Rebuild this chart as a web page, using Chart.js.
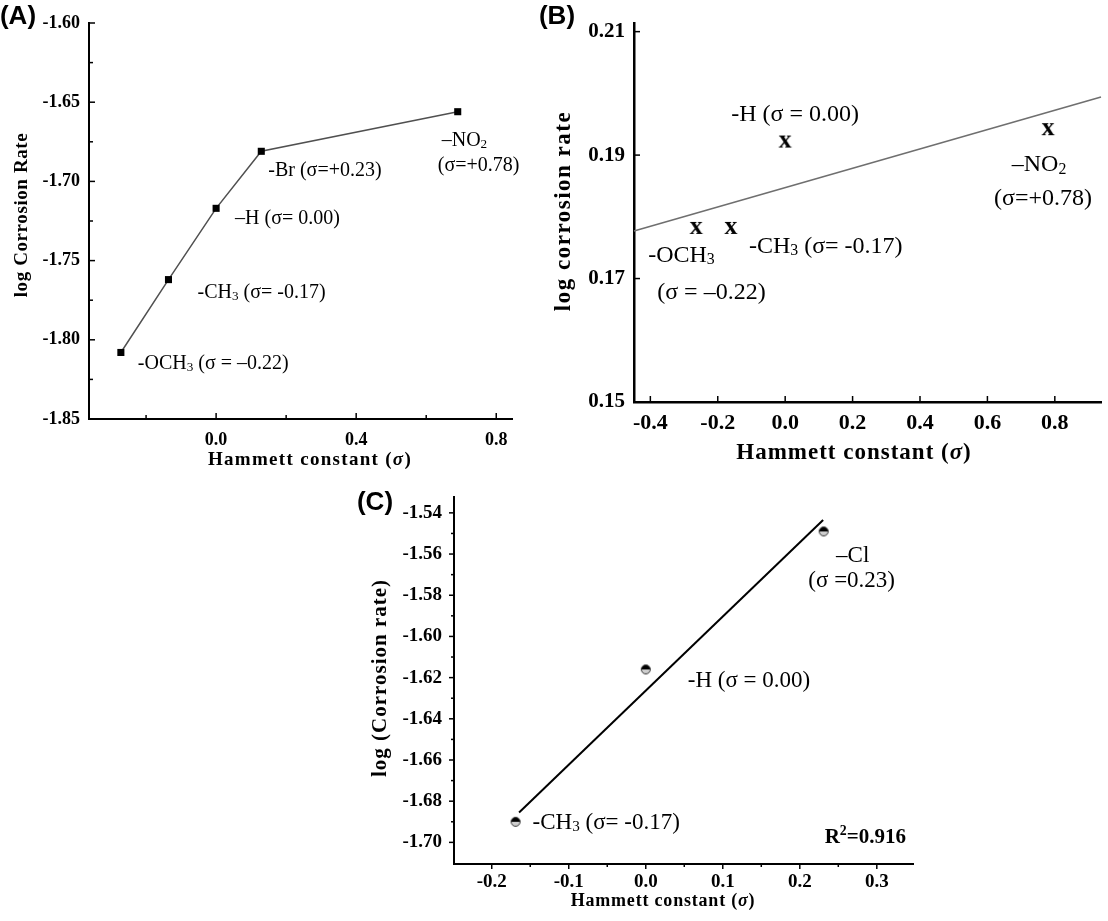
<!DOCTYPE html>
<html>
<head>
<meta charset="utf-8">
<script src="https://cdn.jsdelivr.net/npm/chart.js@4.4.1/dist/chart.umd.min.js"></script>
<style>
html, body { margin: 0; padding: 0; background: #fff; }
#wrap { position: relative; width: 1108px; height: 921px; overflow: hidden; }
canvas { position: absolute; left: 0; top: 0; }
</style>
</head>
<body>
<div id="wrap">
  <canvas id="chartA" width="1108" height="921"></canvas>
  <canvas id="chartB" width="1108" height="921"></canvas>
  <canvas id="chartC" width="1108" height="921"></canvas>
</div>
<script>
// ---- panel A ----
var sigmaA = [-0.272, -0.136, 0.0, 0.129, 0.690];
var logRateA = [-1.808, -1.762, -1.717, -1.681, -1.656];
var xTicksA = [-0.2, 0.0, 0.2, 0.4, 0.6, 0.8];
var xLabelsA = ['', '0.0', '', '0.4', '', '0.8'];
var yTicksA = [-1.85, -1.825, -1.80, -1.775, -1.75, -1.725, -1.70, -1.675, -1.65, -1.625, -1.60];
var yLabelsA = ['-1.85', '', '-1.80', '', '-1.75', '', '-1.70', '', '-1.65', '', '-1.60'];

// ---- panel B ----
var sigmaB = [-0.264, -0.161, 0.0, 0.78];
var logRateB = [0.1782, 0.1782, 0.1922, 0.1942];
var fitSigmaB = [-0.4485, 0.937];
var fitRateB = [0.1777, 0.1994];
var xTicksB = [-0.4, -0.2, 0.0, 0.2, 0.4, 0.6, 0.8];
var xLabelsB = ['-0.4', '-0.2', '0.0', '0.2', '0.4', '0.6', '0.8'];
var yTicksB = [0.15, 0.17, 0.19, 0.21];
var yLabelsB = ['0.15', '0.17', '0.19', '0.21'];

// ---- panel C ----
var sigmaC = [-0.169, 0.0, 0.231];
var logRateC = [-1.690, -1.616, -1.549];
var fitSigmaC = [-0.1645, 0.2303];
var fitRateC = [-1.6855, -1.5435];
var xTicksC = [-0.2, -0.15, -0.1, -0.05, 0.0, 0.05, 0.1, 0.15, 0.2, 0.25, 0.3];
var xLabelsC = ['-0.2', '', '-0.1', '', '0.0', '', '0.1', '', '0.2', '', '0.3'];
var yTicksC = [-1.70, -1.69, -1.68, -1.67, -1.66, -1.65, -1.64, -1.63, -1.62, -1.61, -1.60, -1.59, -1.58, -1.57, -1.56, -1.55, -1.54];
var yLabelsC = ['-1.70', '', '-1.68', '', '-1.66', '', '-1.64', '', '-1.62', '', '-1.60', '', '-1.58', '', '-1.56', '', '-1.54'];

var SERIF = '"Liberation Serif", "Times New Roman", serif';
var SANS = '"Liberation Sans", Arial, sans-serif';
Chart.defaults.font.family = SERIF;
Chart.defaults.color = '#000';

function pts(xs, ys) {
  return xs.map(function (x, i) { return { x: x, y: ys[i] }; });
}

// box = fixed width (y) or height (x) of the axis area, so labels are not clipped
function axis(min, max, ticks, labels, size, pad, bw, box) {
  return {
    type: 'linear',
    min: min,
    max: max,
    afterBuildTicks: function (s) { s.ticks = ticks.map(function (v) { return { value: v }; }); },
    afterFit: function (s) { if (s.isHorizontal()) s.height = box; else s.width = box; },
    ticks: {
      autoSkip: false, maxRotation: 0, minRotation: 0, padding: pad,
      font: { family: SERIF, size: size, weight: 'bold' }, color: '#000',
      callback: function (v, i) { return labels[i]; }
    },
    grid: { display: false, drawTicks: false },
    border: { display: true, color: '#000', width: bw }
  };
}

// text with _x subscript, ^x superscript, *..* italic
function drawRich(ctx, str, size, bold, align, sp, family) {
  var segs = [], italic = false;
  for (var i = 0; i < str.length; i++) {
    var ch = str[i], mode = 'n';
    if (ch === '*') { italic = !italic; continue; }
    if (ch === '_' || ch === '^') { mode = ch; ch = str[++i]; }
    var last = segs[segs.length - 1];
    if (last && last.mode === mode && last.italic === italic) last.t += ch;
    else segs.push({ t: ch, mode: mode, italic: italic });
  }
  ctx.letterSpacing = (sp || 0) + 'px';
  ctx.textBaseline = 'middle';
  ctx.textAlign = 'left';
  ctx.fillStyle = '#000';
  function fontFor(s) {
    var fs = s.mode === 'n' ? size : size * 0.66;
    return (s.italic ? 'italic ' : '') + (bold ? 'bold ' : '') + fs + 'px ' + (family || SERIF);
  }
  var total = 0;
  segs.forEach(function (s) { ctx.font = fontFor(s); s.w = ctx.measureText(s.t).width; total += s.w; });
  var x = align === 'center' ? -total / 2 : (align === 'right' ? -total : 0);
  segs.forEach(function (s) {
    ctx.font = fontFor(s);
    var dy = s.mode === '_' ? size * 0.18 : (s.mode === '^' ? -size * 0.3 : 0);
    ctx.fillText(s.t, x, dy);
    x += s.w;
  });
}

function notes(items) {
  return {
    id: 'notes',
    afterDraw: function (chart) {
      var ctx = chart.ctx;
      items.forEach(function (it) {
        var x = it.x, y = it.y;
        if (it.ds !== undefined) {
          var el = chart.getDatasetMeta(it.ds).data[it.i];
          x = el.x + it.dx; y = el.y + it.dy;
        }
        ctx.save();
        ctx.translate(x, y);
        if (it.rot) ctx.rotate(it.rot * Math.PI / 180);
        drawRich(ctx, it.text, it.size, it.bold, it.align || 'left', it.sp, it.family);
        ctx.restore();
      });
    }
  };
}

function tickMarks(dir, major, minor, width) {
  return {
    id: 'tickMarks',
    afterDraw: function (chart) {
      var ctx = chart.ctx;
      ctx.save();
      ctx.strokeStyle = '#000';
      ctx.lineWidth = width;
      Object.keys(chart.scales).forEach(function (k) {
        var s = chart.scales[k];
        s.ticks.forEach(function (t) {
          var len = t.label !== '' ? major : minor;
          var p = s.getPixelForValue(t.value);
          ctx.beginPath();
          if (s.isHorizontal()) {
            var sy = dir === 'in' ? -1 : 1;
            ctx.moveTo(p, s.top); ctx.lineTo(p, s.top + sy * len);
          } else {
            var sx = dir === 'in' ? 1 : -1;
            ctx.moveTo(s.right, p); ctx.lineTo(s.right + sx * len, p);
          }
          ctx.stroke();
        });
      });
      ctx.restore();
    }
  };
}

// marker images
var xMark = document.createElement('canvas');
xMark.width = 20; xMark.height = 20;
(function () {
  var c = xMark.getContext('2d');
  c.font = 'bold 26px ' + SERIF;
  c.textAlign = 'center';
  c.textBaseline = 'alphabetic';
  c.fillStyle = '#000';
  c.fillText('x', 10, 16);
})();

var halfDot = document.createElement('canvas');
halfDot.width = 12; halfDot.height = 12;
(function () {
  var c = halfDot.getContext('2d');
  c.beginPath(); c.arc(6, 6, 4.5, 0, Math.PI * 2); c.fillStyle = '#cfcfcf'; c.fill();
  c.beginPath(); c.arc(6, 6, 4.5, Math.PI, Math.PI * 2); c.closePath(); c.fillStyle = '#000'; c.fill();
  c.beginPath(); c.arc(6, 6, 4.5, 0, Math.PI * 2); c.strokeStyle = '#333'; c.lineWidth = 1; c.stroke();
})();

var common = {
  responsive: false,
  animation: false,
  events: [],
  plugins: { legend: { display: false }, tooltip: { enabled: false } }
};

// ---- chart A ----  area: left 89, top 23, right 512, bottom 419
new Chart(document.getElementById('chartA'), {
  type: 'scatter',
  data: {
    datasets: [{
      data: pts(sigmaA, logRateA),
      showLine: true,
      borderColor: '#505050',
      borderWidth: 1.5,
      pointStyle: 'rect',
      pointRadius: 5,
      pointBackgroundColor: '#000',
      pointBorderColor: '#000',
      pointBorderWidth: 0,
      clip: false
    }]
  },
  options: Object.assign({}, common, {
    layout: { padding: { left: 0, top: 23, right: 596, bottom: 462 } },
    scales: {
      x: axis(-0.363, 0.845, xTicksA, xLabelsA, 18, 11, 2, 40),
      y: axis(-1.85, -1.60, yTicksA, yLabelsA, 18, 9, 2, 89)
    }
  }),
  plugins: [tickMarks('in', 6, 4, 1.5), notes([
    { ds: 0, i: 0, dx: 17, dy: 11, text: '-OCH_3 (σ = –0.22)', size: 20 },
    { ds: 0, i: 1, dx: 29, dy: 13, text: '-CH_3 (σ= -0.17)', size: 20 },
    { ds: 0, i: 2, dx: 19, dy: 10, text: '–H (σ= 0.00)', size: 20 },
    { ds: 0, i: 3, dx: 7, dy: 19, text: '-Br (σ=+0.23)', size: 20 },
    { ds: 0, i: 4, dx: -16, dy: 29, text: '–NO_2', size: 20 },
    { ds: 0, i: 4, dx: -20, dy: 54, text: '(σ=+0.78)', size: 20 },
    { x: 22, y: 215, rot: -90, align: 'center', text: 'log Corrosion Rate', size: 19, bold: true, sp: 0.6 },
    { x: 310, y: 460, align: 'center', text: 'Hammett constant (*σ*)', size: 19, bold: true, sp: 1.3 },
    { x: 18, y: 17, align: 'center', text: '(A)', size: 26, bold: true, family: SANS }
  ])]
});

// ---- chart B ----  area: left 634, top 23, right 1105, bottom 402
new Chart(document.getElementById('chartB'), {
  type: 'scatter',
  data: {
    datasets: [{
      data: pts(sigmaB, logRateB),
      pointStyle: xMark,
      pointRadius: 6,
      clip: false
    }, {
      data: pts(fitSigmaB, fitRateB),
      showLine: true,
      borderColor: '#6f6f6f',
      borderWidth: 1.6,
      pointRadius: 0,
      clip: false
    }]
  },
  options: Object.assign({}, common, {
    layout: { padding: { left: 564, top: 23, right: 3, bottom: 479 } },
    scales: {
      x: axis(-0.4485, 0.937, xTicksB, xLabelsB, 22, 8, 2.5, 40),
      y: axis(0.15, 0.2114, yTicksB, yLabelsB, 21, 9, 2.5, 70)
    }
  }),
  plugins: [tickMarks('in', 6, 4, 1.5), notes([
    { ds: 0, i: 0, dx: -48, dy: 28, text: '-OCH_3', size: 24 },
    { ds: 0, i: 0, dx: -39, dy: 65, text: '(σ = –0.22)', size: 24 },
    { ds: 0, i: 1, dx: 18, dy: 19, text: '-CH_3 (σ= -0.17)', size: 24 },
    { ds: 0, i: 2, dx: -54, dy: -27, text: '-H (σ = 0.00)', size: 24 },
    { ds: 0, i: 3, dx: -9, dy: 36, align: 'center', text: '–NO_2', size: 24 },
    { ds: 0, i: 3, dx: -5, dy: 70, align: 'center', text: '(σ=+0.78)', size: 24 },
    { x: 564, y: 211, rot: -90, align: 'center', text: 'log corrosion rate', size: 23, bold: true, sp: 1.5 },
    { x: 854, y: 453, align: 'center', text: 'Hammett constant (*σ*)', size: 23, bold: true, sp: 1 },
    { x: 557, y: 17, align: 'center', text: '(B)', size: 26, bold: true, family: SANS }
  ])]
});

// ---- chart C ----  area: left 454, top 497, right 913, bottom 864
new Chart(document.getElementById('chartC'), {
  type: 'scatter',
  data: {
    datasets: [{
      data: pts(sigmaC, logRateC),
      pointStyle: halfDot,
      pointRadius: 5,
      clip: false
    }, {
      data: pts(fitSigmaC, fitRateC),
      showLine: true,
      borderColor: '#000',
      borderWidth: 2,
      pointRadius: 0,
      clip: false
    }]
  },
  options: Object.assign({}, common, {
    layout: { padding: { left: 384, top: 497, right: 195, bottom: 22 } },
    scales: {
      x: axis(-0.249, 0.347, xTicksC, xLabelsC, 19, 7, 2, 35),
      y: axis(-1.7105, -1.5323, yTicksC, yLabelsC, 19, 12, 2, 70)
    }
  }),
  plugins: [tickMarks('out', 5, 3, 1.5), notes([
    { ds: 0, i: 0, dx: 17, dy: 1, text: '-CH_3 (σ= -0.17)', size: 23 },
    { ds: 0, i: 1, dx: 42, dy: 12, text: '-H (σ = 0.00)', size: 23 },
    { ds: 0, i: 2, dx: 29, dy: 25, align: 'center', text: '–Cl', size: 23 },
    { ds: 0, i: 2, dx: 28, dy: 50, align: 'center', text: '(σ =0.23)', size: 23 },
    { x: 906, y: 838, align: 'right', text: 'R^2=0.916', size: 21, bold: true },
    { x: 381, y: 678, rot: -90, align: 'center', text: 'log (Corrosion rate)', size: 21, bold: true, sp: 1 },
    { x: 663, y: 901, align: 'center', text: 'Hammett constant (*σ*)', size: 18, bold: true, sp: 0.8 },
    { x: 375, y: 503, align: 'center', text: '(C)', size: 26, bold: true, family: SANS }
  ])]
});
</script>
</body>
</html>
